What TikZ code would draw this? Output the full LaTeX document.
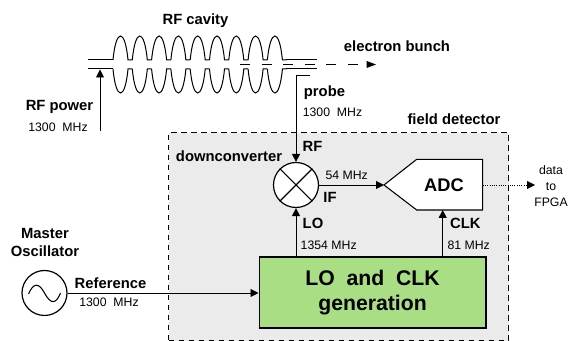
\documentclass[tikz,border=0pt]{standalone}
\usepackage{fontspec}
\setmainfont{Liberation Sans}
\usetikzlibrary{arrows.meta,calc}
\definecolor{detectorgrey}{RGB}{235,235,235}
\definecolor{logreen}{RGB}{169,222,133}

\begin{document}
\begin{tikzpicture}[
  x=0.75pt,y=-0.75pt,
  >={Triangle[length=6pt,width=6pt]},
  wire/.style={line width=0.7pt},
  lbl/.style={font=\fontsize{11.1}{14}\selectfont\bfseries,inner sep=0pt},
  freq/.style={font=\fontsize{9.2}{12}\selectfont,inner sep=0pt},
  cellline/.style={line width=0.75pt}
]
\useasboundingbox (0,0) rectangle (568,341);

%% -- field detector frame --
\node[draw,dash pattern=on 4pt off 3.5pt,fill=detectorgrey,line width=0.9pt,minimum width=340pt*0.75,minimum height=208pt*0.75,
      inner sep=0pt,anchor=north west] (detector) at (168,132) {};

%% -- cavity --
\coordinate (pipeUL) at (88,60);
\coordinate (pipeLL) at (88,69);
\coordinate (probeend) at (310,75);
\coordinate (probebend) at (296,75);
\coordinate (beamstart) at (240,64.5);
\coordinate (beamend) at (376,64.5);
\coordinate (powerstart) at (100,131);
\coordinate (powerend) at (100,69.5);

\draw[cellline] (pipeUL) -- (113,60);
\draw[cellline] (pipeLL) -- (113,69);
\foreach \i in {0,...,8}{
  \pgfmathsetmacro{\xa}{113+19.3*\i}
  \draw[cellline] (\xa,60) .. controls (\xa+3,28) and (\xa+12,28) .. (\xa+15,60) -- (\xa+19.3,60);
  \draw[cellline] (\xa,69) .. controls (\xa+3,101) and (\xa+12,101) .. (\xa+15,69) -- (\xa+19.3,69);
}
\draw[cellline] (286,60) -- (317,60);
\draw[cellline] (286,69) -- (317,69);
\draw[wire,dash pattern=on 7.5pt off 8.7pt,-{Triangle[length=7pt,width=5pt]}] (beamstart) -- (beamend);
\draw[wire,->] (powerstart) -- (powerend);

%% -- blocks --
\node[draw,circle,fill=white,line width=0.9pt,minimum size=45pt*0.75,inner sep=0pt] (mixer) at (296,185) {};
\draw[line width=0.8pt] (mixer.north west) -- (mixer.south east);
\draw[line width=0.8pt] (mixer.north east) -- (mixer.south west);

\coordinate (adctip) at (384,185);
\coordinate (adcin) at (442.7,210);
\draw[fill=white,line width=0.8pt] (adctip) -- (416.7,159.3) -- (482.7,159.3) -- (482.7,210) -- (416.7,210) -- cycle;
\node[font=\fontsize{13.7}{15}\selectfont\bfseries,inner sep=0pt] (adc) at (444,185) {ADC};
\coordinate (adcout) at (482.7,185);
\coordinate (dataend) at (535,185);

\node[draw,fill=logreen,line width=1.2pt,minimum width=226.5pt*0.75,minimum height=71pt*0.75,inner sep=0pt,
      align=center,font=\fontsize{15.9}{19}\selectfont\bfseries,anchor=north west] (logen) at (258.5,256)
      {LO\ \ and\ \ CLK\\generation};

\node[draw,circle,line width=0.9pt,minimum size=45pt*0.75,inner sep=0pt] (osc) at (44.5,293) {};
\draw[line width=0.8pt] (28.5,294) .. controls (33,284) and (38,281) .. (44.5,293) .. controls (51,305) and (56,304) .. (60.5,293);

%% -- connectors --
\draw[wire] (probeend) -- (probebend);
\draw[wire,->] (probebend) -- (mixer.north);
\draw[wire,->] (mixer.east) -- (adctip);
\draw[wire,->] (mixer.south |- logen.north) -- (mixer.south);
\draw[wire,->] (adcin |- logen.north) -- (adcin);
\draw[wire,densely dotted,->] (adcout) -- (dataend);
\draw[wire,->] (osc.east) -- (osc.east -| logen.west);

%% -- labels --
\node[lbl] (cavitylbl) at (195.5,21) {RF cavity};
\node[lbl] (bunchlbl) at (397,46) {electron bunch};
\node[lbl] (powerlbl) at (59.5,107) {RF power};
\node[freq] (powerfreq) at (58,127) {1300\ \ MHz};
\node[lbl] (probelbl) at (324.5,93) {probe};
\node[freq] (probefreq) at (332.5,112.7) {1300\ \ MHz};
\node[lbl] (detectorlbl) at (454,119) {field detector};
\node[lbl] (downlbl) at (229,156.5) {downconverter};
\node[lbl] (rflbl) at (312.5,146.5) {RF};
\node[freq] (iffreq) at (346.7,175) {54 MHz};
\node[lbl] (iflbl) at (330,197) {IF};
\node[lbl] (lolbl) at (313,223) {LO};
\node[freq] (lofreq) at (328.7,245) {1354 MHz};
\node[lbl] (clklbl) at (465.3,223) {CLK};
\node[freq] (clkfreq) at (468.7,245) {81 MHz};
\node[freq,align=center] (datalbl) at (551,186.5) {data\\to\\FPGA};
\node[lbl,align=center] (osclbl) at (45,242.5) {Master\\Oscillator};
\node[lbl] (reflbl) at (110.5,283) {Reference};
\node[freq] (reffreq) at (109,302.7) {1300\ \ MHz};
\end{tikzpicture}
\end{document}
